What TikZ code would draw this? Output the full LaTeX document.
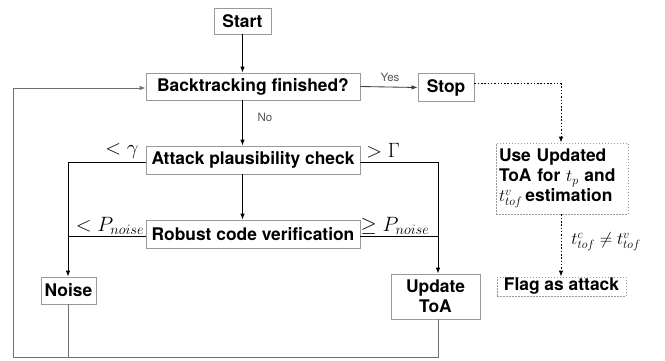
\documentclass[tikz,border=0pt]{standalone}
\usepackage{fontspec}
\setmainfont{TeX Gyre Heros}
\usetikzlibrary{arrows.meta}
\definecolor{boxgray}{HTML}{9A9A9A}
\definecolor{loopgray}{HTML}{707070}
\definecolor{labgray}{HTML}{555555}
\begin{document}
\begin{tikzpicture}[x=1pt,y=-1pt,
  box/.style={draw=boxgray, line width=0.8pt, inner sep=0pt, align=center,
    font=\bfseries\fontsize{17.4}{20}\selectfont},
  dbox/.style={box, dash pattern=on 1.5pt off 1.5pt},
  tip/.style={-{Latex[length=6pt,width=4.5pt]}},
  flow/.style={line width=0.85pt, black},
  arr/.style={flow, tip},
  loopline/.style={line width=0.85pt, loopgray},
  dotline/.style={line width=0.85pt, black, dash pattern=on 1.5pt off 1.8pt},
  mlab/.style={inner sep=0pt, font=\fontsize{20.74}{22}\selectfont},
  slab/.style={inner sep=0pt, font=\fontsize{17.28}{19}\selectfont},
  tlab/.style={inner sep=0pt, text=labgray, font=\fontsize{11.5}{13}\selectfont}]
\useasboundingbox (0,0) rectangle (665,360);

\node[box, minimum width=57pt, minimum height=26pt] (start) at (242.5,21) {Start};
\node[box, minimum width=214pt, minimum height=27pt] (back) at (253,86.5) {Backtracking finished?};
\node[box, minimum width=56pt, minimum height=28pt] (stop) at (446,87.5) {Stop};
\node[box, minimum width=214pt, minimum height=28pt] (attack) at (253,160) {Attack plausibility check};
\node[box, minimum width=214pt, minimum height=28pt] (robust) at (253,234) {Robust code verification};
\node[box, minimum width=55pt, minimum height=27pt] (noise) at (68.5,290.5) {Noise};
\node[box, minimum width=89pt, minimum height=45pt] (update) at (435.5,296.5) {Update\\ToA};
\node[dbox, minimum width=132pt, minimum height=71pt, text width=126pt, align=left] (use) at (562,178.5)
  {Use Updated\\ToA for $t_p$ and\\$t^v_{tof}$\,estimation};
\node[dbox, minimum width=129pt, minimum height=19pt] (flag) at (561.5,286.5) {Flag as attack};

% labels
\node[tlab] (yes) at (390,77) {Yes};
\node[tlab] (no) at (265,117) {No};
\node[mlab] (lg) at (122,151) {$<\gamma$};
\node[mlab] (gG) at (383,151) {$>\Gamma$};
\node[mlab] (lp) at (110,226) {$<P_{noise}$};
\node[mlab] (gp) at (395,226) {$\geq P_{noise}$};
\node[slab] (neq) at (606,242) {$t^c_{tof}\neq t^v_{tof}$};

% coordinates
\coordinate (lx1) at (68,162);
\coordinate (lx2) at (68,236);
\coordinate (rx1) at (438,162);
\coordinate (rx2) at (438,236);
\coordinate (bl) at (13,357);
\coordinate (br) at (438,357);
\coordinate (tl) at (13,88);
\coordinate (dc) at (561,83);

% main flow
\draw[arr] (start.south) -- (start.south |- back.north);
\draw[arr] (start.south |- back.south) -- (start.south |- attack.north);
\draw[arr] (start.south |- attack.south) -- (start.south |- robust.north);
\draw[line width=0.85pt, labgray!70!black, tip] (back.east) -- (stop.west);

\draw[flow] (attack.west |- lx1) -- (lx1);
\draw[arr] (lx1) -- (lx1 |- noise.north);
\draw[flow] (robust.west |- lx2) -- (lx2);
\draw[flow] (attack.east |- rx1) -- (rx1);
\draw[arr] (rx1) -- (rx1 |- update.north);
\draw[flow] (robust.east |- rx2) -- (rx2);

% loop back
\draw[loopline] (noise.south) -- (noise.south |- bl);
\draw[loopline, tip] (rx1 |- update.south) -- (br) -- (bl) -- (tl) -- (back.west |- tl);

% dotted
\draw[dotline] (stop.east |- dc) -- (dc);
\draw[dotline, tip] (dc) -- (dc |- use.north);
\draw[dotline, tip] (dc |- use.south) -- (dc |- flag.north);
\end{tikzpicture}
\end{document}
